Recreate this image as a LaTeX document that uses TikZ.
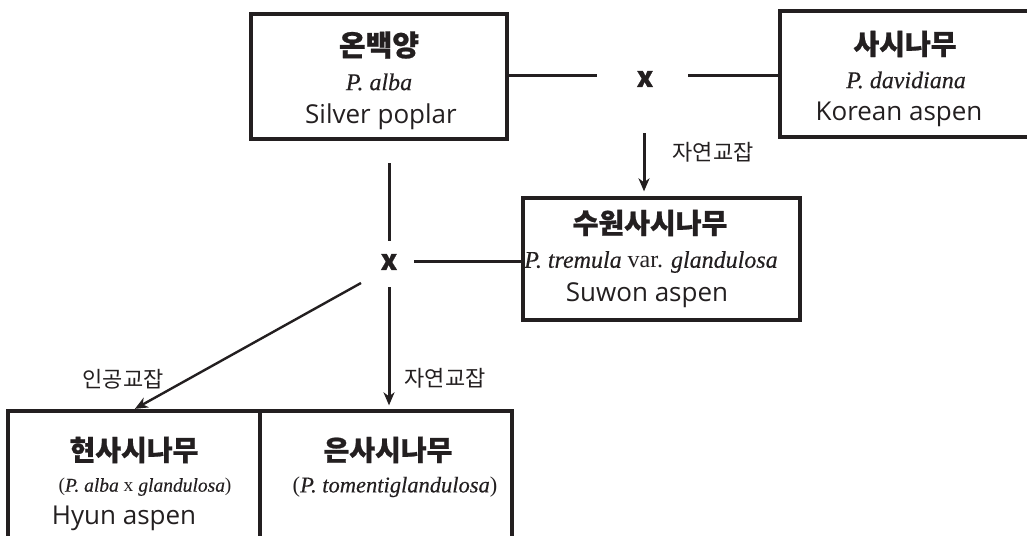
\documentclass[tikz,border=0pt]{standalone}
\usepackage{fontspec}
\setmainfont{Liberation Serif}[ItalicFeatures={FakeBold=0.3}]
\newfontfamily\kr{Noto Sans CJK KR}[BoldFeatures={FakeBold=0.8}]
\newfontfamily\lat{Open Sans}
\usetikzlibrary{arrows.meta}
\definecolor{ink}{RGB}{35,31,32}
\begin{document}
\begin{tikzpicture}[x=1pt,y=-1pt,
  box/.style={draw=ink, line width=3.3pt, inner sep=0pt},
  title/.style={font=\kr\bfseries\fontsize{28}{30}\selectfont, text=ink, inner sep=0pt},
  sci/.style={font=\fontsize{24}{26}\selectfont, text=ink, inner sep=0pt},
  scis/.style={font=\fontsize{19.5}{22}\selectfont, text=ink, inner sep=0pt},
  scim/.style={font=\fontsize{22.5}{24}\selectfont, text=ink, inner sep=0pt},
  common/.style={font=\lat\fontsize{26}{28}\selectfont, text=ink, inner sep=0pt},
  lbl/.style={font=\kr\fontsize{22}{24}\selectfont, text=ink, inner sep=0pt},
  cross/.style={font=\kr\bfseries\fontsize{28}{30}\selectfont, text=ink, inner sep=0pt},
  conn/.style={draw=ink, line width=3pt},
  arr/.style={conn, -{Stealth[length=13pt,width=11pt,inset=4pt]}}
]
\clip (0,0) rectangle (1027,535);
% boxes
\node[box, minimum width=256pt, minimum height=125pt] (alba) at (379,76.5) {};
\node[box, minimum width=255pt, minimum height=126pt] (david) at (907.5,74) {};
\node[box, minimum width=277pt, minimum height=122pt] (suwon) at (661.5,259) {};
\node[box, minimum width=252pt, minimum height=150pt] (hyun) at (134,486) {};
\node[box, minimum width=252pt, minimum height=150pt] (tomen) at (386,486) {};
% texts
\node[title, font=\kr\bfseries\fontsize{29}{30}\selectfont] (albaK) at (379,45) {온백양};
\node[sci] (albaS) at (379,82) {\itshape P. alba};
\node[common] (albaC) at (381,117) {Silver poplar};
\node[title] (davidK) at (905,44) {사시나무};
\node[sci] (davidS) at (906,80) {\itshape P. davidiana};
\node[common] (davidC) at (899,114) {Korean aspen};
\node[title] (suwonK) at (650,223) {수원사시나무};
\node[sci] (suwonS) at (651,262) {\textit{P. tremula} var. \textit{glandulosa}};
\node[common] (suwonC) at (647,295) {Suwon aspen};
\node[title] (hyunK) at (134,450) {현사시나무};
\node[scis] (hyunS) at (145,487) {(\textit{P. alba} x \textit{glandulosa})};
\node[common] (hyunC) at (124,518) {Hyun aspen};
\node[title] (tomenK) at (388,450) {은사시나무};
\node[scim] (tomenS) at (395,487) {(\textit{P. tomentiglandulosa})};
% crosses
\node[cross] (xa) at (645,79) {x};
\node[cross] (xb) at (389,262) {x};
% labels
\node[lbl] (l1) at (713,152) {자연교잡};
\node[lbl] (l2) at (123,379) {인공교잡};
\node[lbl] (l3) at (445,378) {자연교잡};
% connectors
\coordinate (aE) at (597,75);
\coordinate (dW) at (688,75);
\draw[conn] (aE -| alba.east) -- (aE);
\draw[conn] (dW) -- (dW -| david.west);
\coordinate (vA) at (644,133);
\draw[arr, shorten >=5pt] (vA) -- (vA |- suwon.north);
\coordinate (uS) at (389,163);
\coordinate (uE) at (389,241);
\draw[conn] (uS) -- (uE);
\coordinate (hS) at (414,261);
\draw[conn] (hS) -- (hS -| suwon.west);
\coordinate (vB) at (389,287);
\draw[arr, shorten >=4pt] (vB) -- (vB |- tomen.north);
\coordinate (dS) at (361,283);
\draw[arr, line width=2.4pt, shorten >=1pt] (dS) -- (hyun.north);
\end{tikzpicture}
\end{document}
